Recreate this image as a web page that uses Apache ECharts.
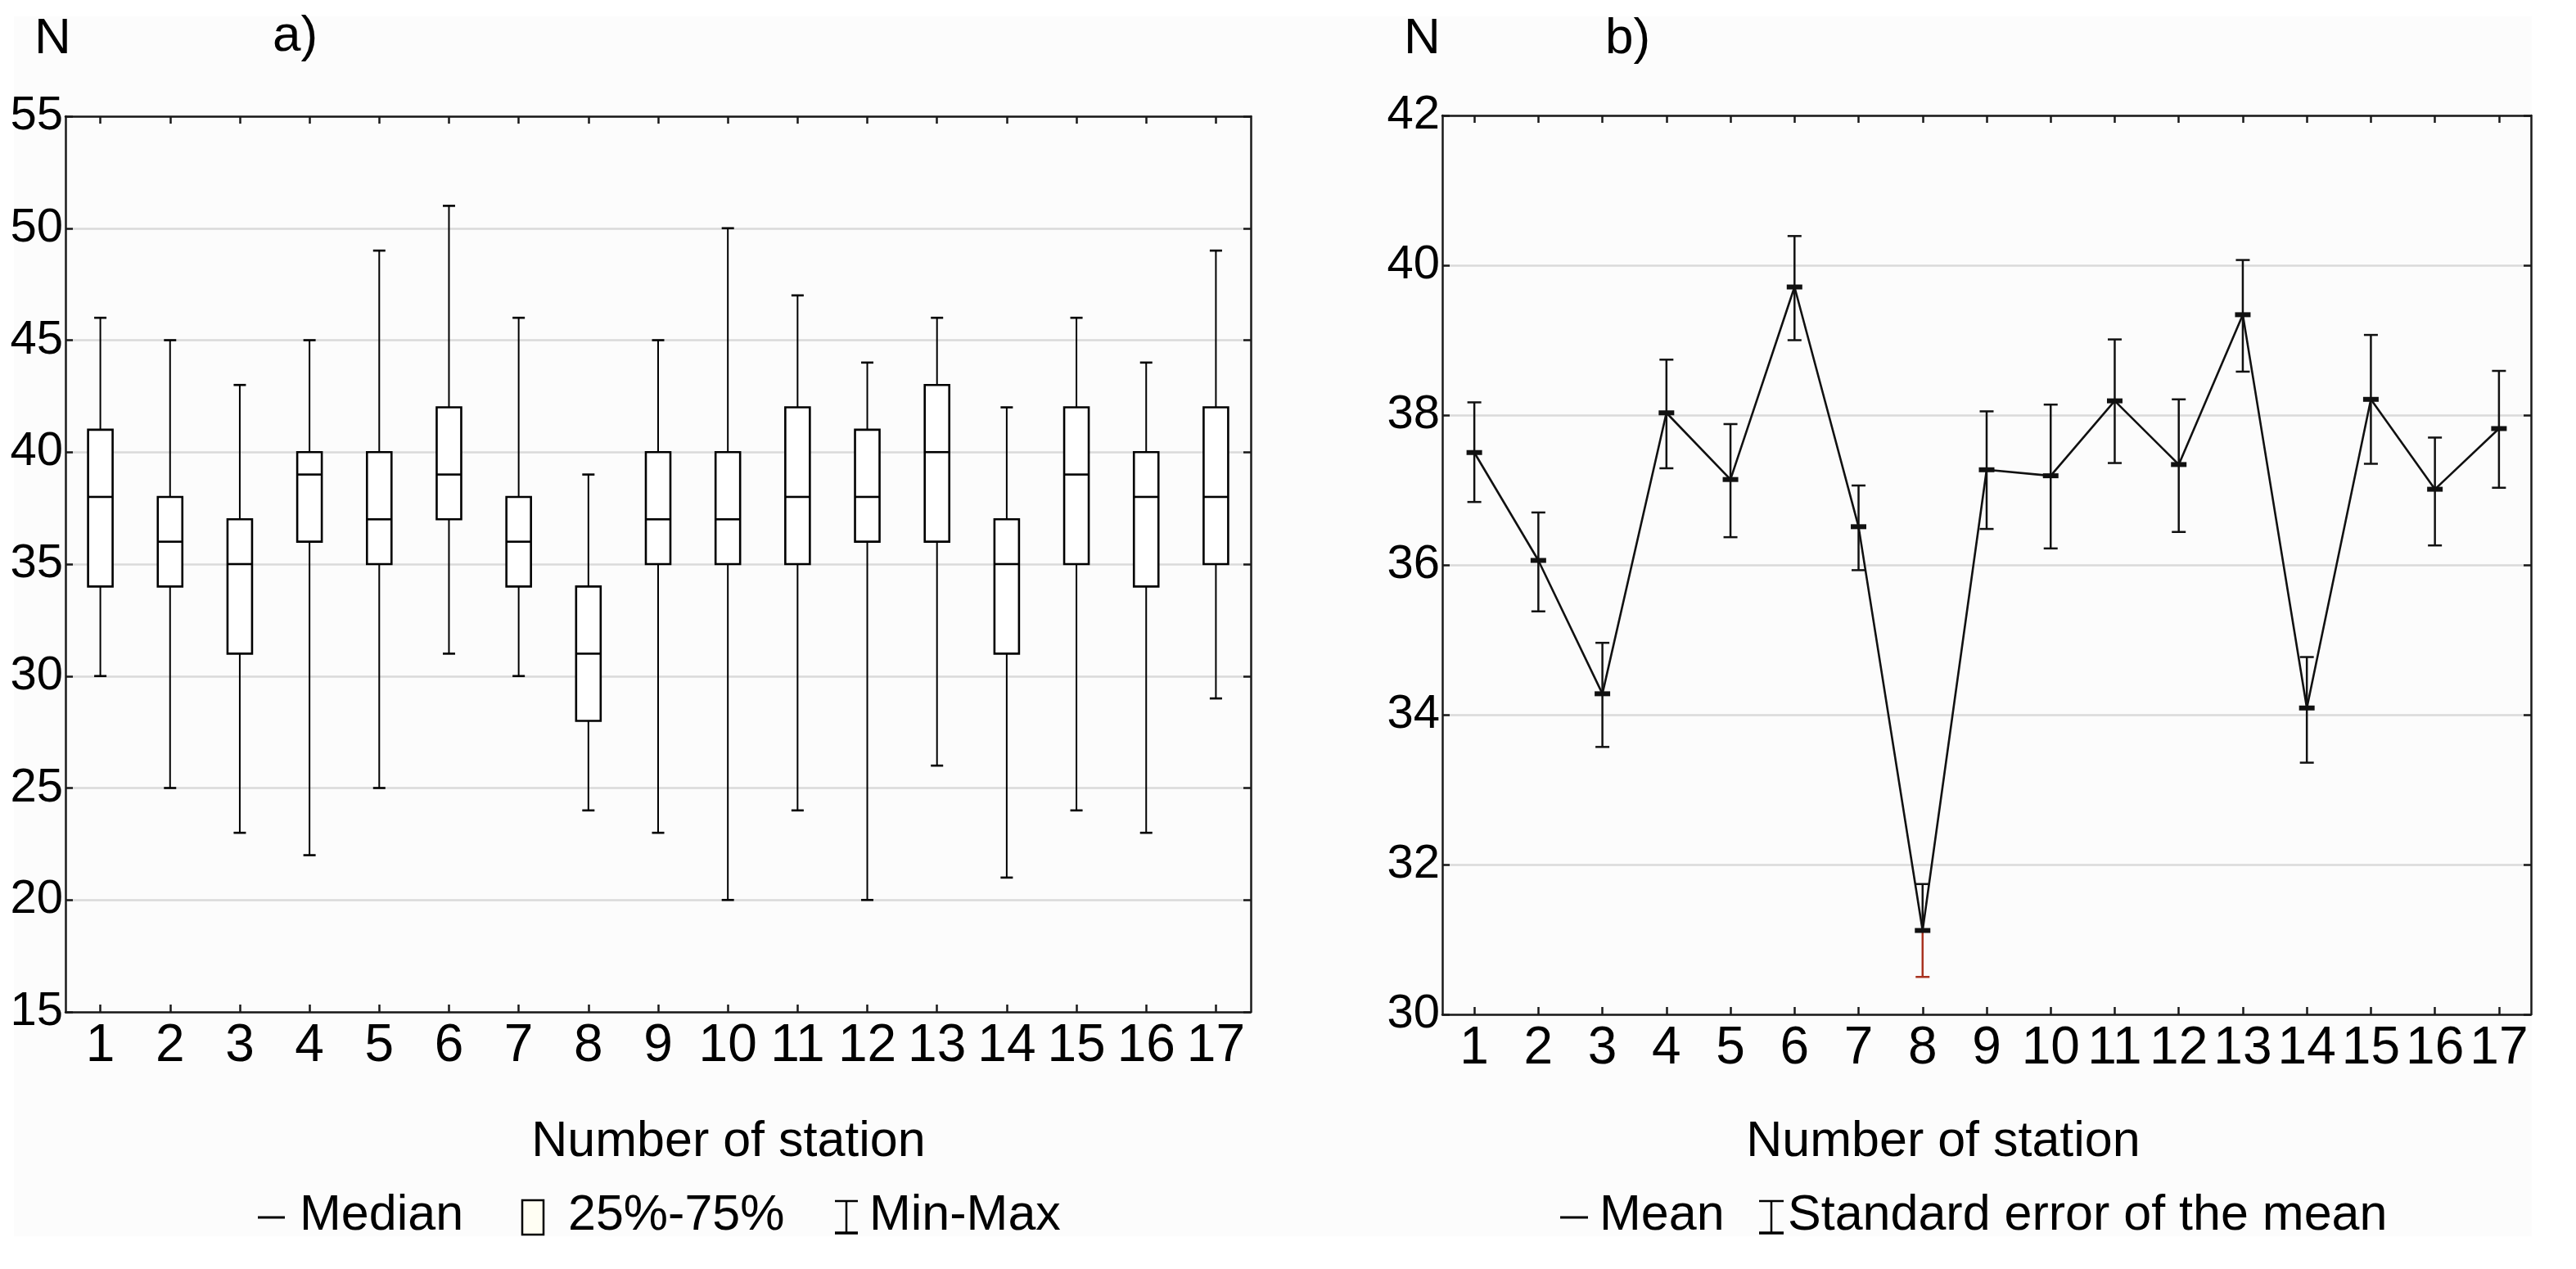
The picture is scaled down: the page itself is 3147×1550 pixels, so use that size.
<!DOCTYPE html>
<html>
<head>
<meta charset="utf-8">
<script src="https://cdn.jsdelivr.net/npm/echarts@6/dist/echarts.min.js"></script>
<style>
html,body{margin:0;padding:0;background:#ffffff;}
#chart{width:3147px;height:1550px;}
</style>
</head>
<body>
<div id="chart"></div>
<script>
// ---------- DATA ----------
const stations = ['1','2','3','4','5','6','7','8','9','10','11','12','13','14','15','16','17'];
// panel a) box plot (N)
const minVals    = [30, 25, 23, 22, 25, 31, 30, 24, 23, 20, 24, 20, 26, 21, 24, 23, 29];
const q1Vals     = [34, 34, 31, 36, 35, 37, 34, 28, 35, 35, 35, 36, 36, 31, 35, 34, 35];
const medianVals = [38, 36, 35, 39, 37, 39, 36, 31, 37, 37, 38, 38, 40, 35, 39, 38, 38];
const q3Vals     = [41, 38, 37, 40, 40, 42, 38, 34, 40, 40, 42, 41, 43, 37, 42, 40, 42];
const maxVals    = [46, 45, 43, 45, 49, 51, 46, 39, 45, 50, 47, 44, 46, 42, 46, 44, 49];
// panel b) mean and standard error of the mean
const meanVals = [37.50, 36.06, 34.28, 38.03, 37.14, 39.71, 36.51, 31.12, 37.27, 37.19, 38.19, 37.34, 39.34, 34.09, 38.21, 37.01, 37.82];
const seLow    = [36.84, 35.38, 33.57, 37.29, 36.37, 39.00, 35.93, 30.50, 36.48, 36.22, 37.36, 36.44, 38.58, 33.36, 37.35, 36.26, 37.03];
const seHigh   = [38.17, 36.70, 34.96, 38.74, 37.88, 40.39, 37.06, 31.74, 38.05, 38.14, 39.01, 38.21, 40.07, 34.77, 39.07, 37.70, 38.59];
// axis ticks
const yTicksA = {min: 15, max: 55, interval: 5};
const yTicksB = {min: 30, max: 42, interval: 2};
// texts
const axisTitle = 'Number of station';
const yTitle = 'N';
const panelA = 'a)';
const panelB = 'b)';
const legendA = ['Median', '25%-75%', 'Min-Max'];
const legendB = ['Mean', 'Standard error of the mean'];

// ---------- STYLE ----------
const FONT = 'Liberation Sans, Arial, sans-serif';
const AXIS_COLOR = '#1a1a1a';
const GRID_COLOR = '#dadada';
const RED = '#a8321f';
const highlightStation = '8';

const boxRows = stations.map((s, i) => [i, minVals[i], q1Vals[i], medianVals[i], q3Vals[i], maxVals[i]]);
const errRows = stations.map((s, i) => [i, meanVals[i], seLow[i], seHigh[i]]);

function xAxes(gridIndex) {
  const common = {
    type: 'category', data: stations, gridIndex: gridIndex, boundaryGap: true,
    axisLine: {show: true, onZero: false, lineStyle: {color: AXIS_COLOR, width: 2.5}},
    axisTick: {show: true, inside: true, alignWithLabel: true, length: 9, lineStyle: {color: AXIS_COLOR, width: 2.5}},
    splitLine: {show: false}
  };
  return [
    Object.assign({}, common, {position: 'bottom',
      axisLabel: {show: true, interval: 0, color: '#000', fontFamily: FONT, fontSize: 64, margin: 10}}),
    Object.assign({}, common, {position: 'top', axisLabel: {show: false}})
  ];
}
function yAxes(gridIndex, t) {
  const common = {
    type: 'value', gridIndex: gridIndex, min: t.min, max: t.max, interval: t.interval,
    axisLine: {show: true, onZero: false, lineStyle: {color: AXIS_COLOR, width: 2.5}},
    axisTick: {show: true, inside: true, length: 9, lineStyle: {color: AXIS_COLOR, width: 2.5}}
  };
  return [
    Object.assign({}, common, {position: 'left',
      axisLabel: {show: true, color: '#000', fontFamily: FONT, fontSize: 58, margin: 3},
      splitLine: {show: true, lineStyle: {color: GRID_COLOR, width: 2.5}}}),
    Object.assign({}, common, {position: 'right', axisLabel: {show: false}, splitLine: {show: false}})
  ];
}

function renderBox(params, api) {
  const x = api.value(0);
  const pMin = api.coord([x, api.value(1)]);
  const pQ1 = api.coord([x, api.value(2)]);
  const pMed = api.coord([x, api.value(3)]);
  const pQ3 = api.coord([x, api.value(4)]);
  const pMax = api.coord([x, api.value(5)]);
  const cx = pMed[0];
  const bw = 30, cw = 15;
  const ls = {stroke: '#000', lineWidth: 2};
  const lsBold = {stroke: '#000', lineWidth: 2.6};
  return {
    type: 'group',
    children: [
      {type: 'line', shape: {x1: cx, y1: pMax[1], x2: cx, y2: pQ3[1]}, style: ls},
      {type: 'line', shape: {x1: cx, y1: pQ1[1], x2: cx, y2: pMin[1]}, style: ls},
      {type: 'line', shape: {x1: cx - cw / 2, y1: pMax[1], x2: cx + cw / 2, y2: pMax[1]}, style: lsBold},
      {type: 'line', shape: {x1: cx - cw / 2, y1: pMin[1], x2: cx + cw / 2, y2: pMin[1]}, style: lsBold},
      {type: 'rect', shape: {x: cx - bw / 2, y: pQ3[1], width: bw, height: pQ1[1] - pQ3[1]},
        style: {fill: '#ffffff', stroke: '#000', lineWidth: 2.6}},
      {type: 'line', shape: {x1: cx - bw / 2, y1: pMed[1], x2: cx + bw / 2, y2: pMed[1]}, style: lsBold}
    ]
  };
}

function renderErr(params, api) {
  const x = api.value(0);
  const pMean = api.coord([x, api.value(1)]);
  const pLo = api.coord([x, api.value(2)]);
  const pHi = api.coord([x, api.value(3)]);
  const cx = pMean[0];
  const cw = 17, mw = 19;
  const lowColor = stations[params.dataIndex] === highlightStation ? RED : '#111';
  return {
    type: 'group',
    children: [
      {type: 'line', shape: {x1: cx, y1: pHi[1], x2: cx, y2: pMean[1]}, style: {stroke: '#111', lineWidth: 2.5}},
      {type: 'line', shape: {x1: cx, y1: pMean[1], x2: cx, y2: pLo[1]}, style: {stroke: lowColor, lineWidth: 2.5}},
      {type: 'line', shape: {x1: cx - cw / 2, y1: pHi[1], x2: cx + cw / 2, y2: pHi[1]}, style: {stroke: '#111', lineWidth: 2.5}},
      {type: 'line', shape: {x1: cx - cw / 2, y1: pLo[1], x2: cx + cw / 2, y2: pLo[1]}, style: {stroke: lowColor, lineWidth: 2.5}},
      {type: 'line', shape: {x1: cx - mw / 2, y1: pMean[1], x2: cx + mw / 2, y2: pMean[1]}, style: {stroke: '#111', lineWidth: 6}}
    ]
  };
}

function txt(x, y, s, align, size) {
  return {type: 'text', x: x, y: y, z: 10,
    style: {text: s, fill: '#000', font: (size || 61) + 'px ' + FONT, textAlign: align || 'left', textVerticalAlign: 'middle'}};
}
function seg(x1, y1, x2, y2, w, c) {
  return {type: 'line', z: 10, shape: {x1: x1, y1: y1, x2: x2, y2: y2}, style: {stroke: c || '#000', lineWidth: w}};
}

const chart = echarts.init(document.getElementById('chart'), null, {renderer: 'canvas'});
const option = {
  backgroundColor: '#ffffff',
  animation: false,
  grid: [
    {left: 80, top: 142, width: 1448, height: 1094},
    {left: 1762, top: 141, width: 1330, height: 1098}
  ],
  xAxis: xAxes(0).concat(xAxes(1)),
  yAxis: yAxes(0, yTicksA).concat(yAxes(1, yTicksB)),
  series: [
    {type: 'custom', name: 'box', xAxisIndex: 0, yAxisIndex: 0, data: boxRows,
      encode: {x: 0, y: [1, 2, 3, 4, 5]}, renderItem: renderBox, z: 3},
    {type: 'line', name: 'mean', xAxisIndex: 2, yAxisIndex: 2, data: meanVals,
      symbol: 'none', lineStyle: {color: '#111', width: 2.6}, z: 2},
    {type: 'custom', name: 'se', xAxisIndex: 2, yAxisIndex: 2, data: errRows,
      encode: {x: 0, y: [1, 2, 3]}, renderItem: renderErr, z: 3}
  ],
  graphic: [
    {type: 'rect', z: -10, silent: true, shape: {x: 17, y: 20, width: 3076, height: 1490}, style: {fill: '#fcfcfc'}},
    txt(42, 48, yTitle, 'left', 62),
    txt(333, 45, panelA, 'left', 62),
    txt(1715, 48, yTitle, 'left', 62),
    txt(1961, 48, panelB, 'left', 62),
    txt(890, 1395, axisTitle, 'center', 61),
    txt(2374, 1395, axisTitle, 'center', 61),
    // legend a)
    seg(315, 1487, 348, 1487, 3),
    txt(366, 1485, legendA[0]),
    {type: 'rect', z: 10, shape: {x: 638, y: 1466, width: 26, height: 42}, style: {fill: '#fffef3', stroke: '#000', lineWidth: 2.5}},
    txt(694, 1485, legendA[1]),
    seg(1034, 1467, 1034, 1506, 2.5),
    seg(1020, 1467, 1048, 1467, 2.5),
    seg(1020, 1506, 1048, 1506, 3.5),
    txt(1062, 1485, legendA[2]),
    // legend b)
    seg(1906, 1487, 1940, 1487, 3),
    txt(1954, 1485, legendB[0]),
    seg(2164, 1467, 2164, 1506, 2.5),
    seg(2149, 1467, 2179, 1467, 2.5),
    seg(2149, 1506, 2179, 1506, 3.5),
    txt(2184, 1485, legendB[1])
  ]
};
chart.setOption(option);
</script>
</body>
</html>
